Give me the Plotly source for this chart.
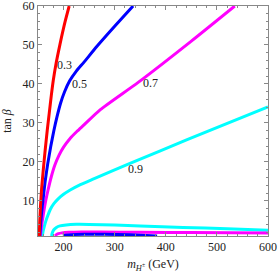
import plotly.graph_objects as go

# Contour branches: charged Higgs mass (GeV) vs tan(beta)
red_m = [152.5, 153.5, 155, 157, 160, 164, 168, 172, 176, 180, 185, 190, 196, 203, 211]
red_t = [1, 5, 9, 13, 17.5, 23, 28, 32.5, 37, 41, 45, 48.3, 52, 56, 60]

blue_m = [153.5, 155, 157, 160, 164, 169, 175, 181, 187, 194, 202, 212, 225, 240, 265, 300, 336]
blue_t = [1, 4, 7, 10.5, 15, 19.5, 24, 28, 31.5, 35, 38, 40.8, 43.3, 45.6, 49.6, 54.8, 60]
blue_low_m = [199, 204, 215, 240, 280, 330, 383]
blue_low_t = [1, 1.2, 1.35, 1.45, 1.45, 1.3, 1]

mag_m = [154.5, 156, 158, 161, 165, 170, 176, 183, 191, 200, 212, 226, 240, 272, 346, 450, 535]
mag_t = [1, 2.5, 4.5, 7, 10, 13, 16.2, 19.2, 21.7, 23.8, 25.9, 27.8, 29.5, 33.4, 40.4, 51, 60]
mag_low_m = [183.5, 186, 190, 197, 210, 235, 270, 350, 450, 600]
mag_low_t = [1, 1.35, 1.6, 1.8, 1.95, 2.03, 2.03, 1.95, 1.87, 1.75]

cyan_m = [158.5, 160, 162, 165, 169, 174, 181, 190, 200, 213, 230, 260, 330, 443, 600]
cyan_t = [1, 2.2, 3.3, 4.7, 6.2, 7.8, 9.3, 10.6, 11.7, 12.8, 14, 15.7, 19.6, 25.8, 34.1]
cyan_low_m = [176.5, 178, 181, 186, 193, 205, 225, 250, 300, 350, 434, 520, 600]
cyan_low_t = [1, 1.8, 2.6, 3.2, 3.6, 3.85, 4.0, 3.98, 3.8, 3.55, 3.2, 2.85, 2.5]

label_text = ["0.3", "0.5", "0.7", "0.9"]
label_m = [202, 231, 370, 341]
label_t = [44.6, 39.7, 40, 17.9]

x_ticks = [200, 300, 400, 500, 600]
y_ticks = [10, 20, 30, 40, 50, 60]

SERIF = "Liberation Serif, Times New Roman, serif"

fig = go.Figure()
series = [
    (cyan_m, cyan_t, "#00FFFF"), (cyan_low_m, cyan_low_t, "#00FFFF"),
    (mag_m, mag_t, "#FF00FF"), (mag_low_m, mag_low_t, "#FF00FF"),
    (blue_m, blue_t, "#0000FF"), (blue_low_m, blue_low_t, "#0000FF"),
    (red_m, red_t, "#FF0000"),
]
for xs, ys, c in series:
    fig.add_trace(go.Scatter(x=xs, y=ys, mode="lines",
                             line=dict(color=c, width=3, shape="spline", smoothing=0.6),
                             hoverinfo="skip", showlegend=False))

fig.add_trace(go.Scatter(x=label_m, y=label_t, mode="text", text=label_text,
                         textfont=dict(family=SERIF, size=12, color="#222"),
                         showlegend=False, hoverinfo="skip"))

axis_common = dict(showgrid=False, zeroline=False, showline=True, linecolor="#888",
                   linewidth=1, mirror="ticks", ticks="inside", ticklen=4, automargin=False,
                   tickcolor="#888", tickfont=dict(family=SERIF, size=12, color="#222"),
                   ticklabeloverflow="allow")

fig.update_xaxes(range=[150, 600], tickvals=x_ticks,
                 minor=dict(ticks="inside", ticklen=2, dtick=20, tickcolor="#888"),
                 title=dict(text="<i>m</i><sub><i>H</i><sup>±</sup></sub> (GeV)",
                            font=dict(family=SERIF, size=12, color="#222"), standoff=6),
                 **axis_common)
fig.update_yaxes(range=[1, 60], tickvals=y_ticks,
                 minor=dict(ticks="inside", ticklen=2, dtick=2, tickcolor="#888"),
                 title=dict(text="tan <i>β</i>",
                            font=dict(family=SERIF, size=12, color="#222"), standoff=8),
                 **axis_common)

fig.update_layout(width=278, height=278, margin=dict(l=38, r=10, t=6, b=42),
                  plot_bgcolor="white", paper_bgcolor="white")

fig.write_html("out.html", config={"displayModeBar": False},
               post_script="document.body.style.margin='0';")
